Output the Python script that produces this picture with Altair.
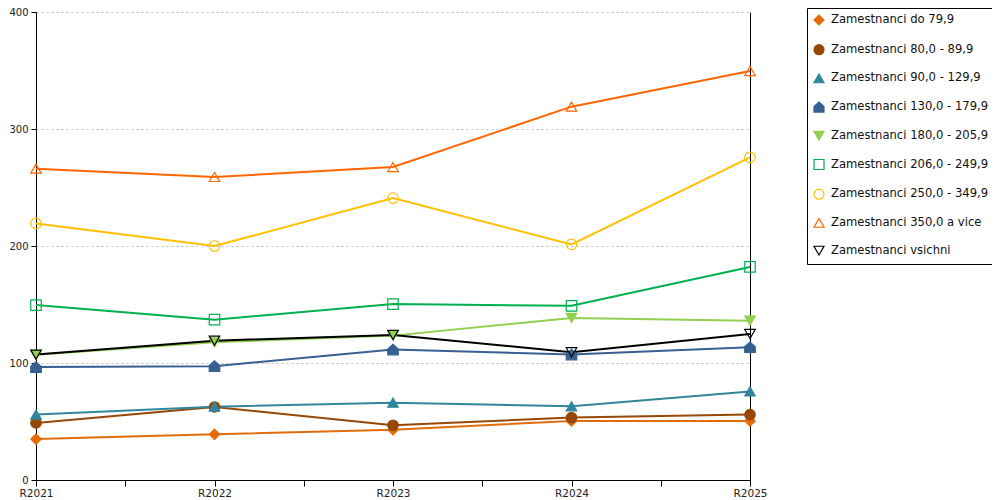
import json
import altair as alt
import pandas as pd

categories = ["R2021", "R2022", "R2023", "R2024", "R2025"]

series_names = [
    "Zamestnanci do 79,9",
    "Zamestnanci 80,0 - 89,9",
    "Zamestnanci 90,0 - 129,9",
    "Zamestnanci 130,0 - 179,9",
    "Zamestnanci 180,0 - 205,9",
    "Zamestnanci 206,0 - 249,9",
    "Zamestnanci 250,0 - 349,9",
    "Zamestnanci 350,0 a vice",
    "Zamestnanci vsichni",
]

v_do79 = [35.0, 39.0, 43.0, 50.5, 50.5]
v_80 = [48.8, 62.4, 46.8, 53.4, 55.9]
v_90 = [55.9, 62.7, 66.1, 63.0, 75.7]
v_130 = [96.5, 97.3, 111.5, 107.2, 113.5]
v_180 = [107.0, 117.7, 123.4, 138.5, 136.2]
v_206 = [149.5, 137.0, 150.4, 148.9, 182.1]
v_250 = [219.3, 200.0, 240.9, 201.4, 275.7]
v_350 = [266.1, 259.0, 267.5, 319.1, 349.5]
v_all = [107.2, 119.1, 124.0, 109.2, 124.8]

all_values = [v_do79, v_80, v_90, v_130, v_180, v_206, v_250, v_350, v_all]

stroke_colors = ["#E36C0A", "#974806", "#31859C", "#366092", "#92D050",
                 "#00B050", "#FFC000", "#FF6600", "#000000"]
fill_colors = ["#E36C0A", "#974806", "#31859C", "#366092", "#92D050",
               "transparent", "transparent", "transparent", "transparent"]
house = "M-1,1L-1,-0.1L0,-1L1,-0.1L1,1Z"
shapes = ["diamond", "circle", "triangle-up", house, "triangle-down",
          "square", "circle", "triangle-up", "triangle-down"]

rows = []
for s, vals in zip(series_names, all_values):
    for i, (c, v) in enumerate(zip(categories, vals)):
        rows.append({"series": s, "idx": i, "cat": c, "value": v})
df = pd.DataFrame(rows)

FONT = "DejaVu Sans"

x_enc = alt.X(
    "idx:Q",
    scale=alt.Scale(domain=[0, len(categories) - 1], nice=False, zero=False),
    axis=alt.Axis(
        title=None,
        values=[i * 0.5 for i in range(2 * len(categories) - 1)],
        labelExpr="datum.value % 1 == 0 ? " + json.dumps(categories) + "[datum.value] : ''",
        grid=False,
        domainColor="black",
        tickColor="black",
        tickSize=6,
        labelColor="#222222",
        labelFont=FONT,
        labelFontSize=10.5,
        labelPadding=2,
        labelFlush=False,
    ),
)

y_scale = alt.Scale(domain=[0, 400], nice=False)

stroke_scale = alt.Scale(domain=series_names, range=stroke_colors)
fill_scale = alt.Scale(domain=series_names, range=fill_colors)
shape_scale = alt.Scale(domain=series_names, range=shapes)

lines = alt.Chart(df).mark_line(strokeWidth=2).encode(
    x=x_enc,
    y=alt.Y(
        "value:Q",
        scale=y_scale,
        axis=alt.Axis(
            title=None,
            values=[0, 100, 200, 300, 400],
            grid=True,
            gridColor="#BBBBBB",
            gridDash=[2, 3],
            gridWidth=1,
            domainColor="black",
            tickColor="black",
            tickSize=5,
            labelColor="#222222",
            labelFont=FONT,
            labelFontSize=10,
            labelPadding=3,
        ),
    ),
    color=alt.Color("series:N", sort=series_names,
                    scale=alt.Scale(range=stroke_colors), legend=None),
    order="idx:Q",
)

leg = alt.Legend(title=None, orient="none", legendX=771, legendY=-4)

points = alt.Chart(df).mark_point(size=110, strokeWidth=1.2, opacity=1).encode(
    x=x_enc,
    y=alt.Y(
        "value:Q",
        scale=y_scale,
        axis=alt.Axis(
            title=None,
            orient="right",
            labels=False,
            ticks=False,
            grid=False,
            domainColor="black",
        ),
    ),
    stroke=alt.Stroke("series:N", scale=stroke_scale, legend=leg),
    fill=alt.Fill("series:N", scale=fill_scale, legend=leg),
    shape=alt.Shape("series:N", scale=shape_scale, legend=leg),
)

chart = (
    alt.layer(lines, points)
    .resolve_axis(y="independent")
    .properties(
        width=714,
        height=468,
        autosize=alt.AutoSizeParams(type="none"),
        padding={"left": 28, "top": 4, "right": 242, "bottom": 30},
        background="white",
    )
    .configure_view(stroke=None)
    .configure_legend(
        strokeColor="black",
        fillColor="white",
        padding=6,
        rowPadding=13.7,
        labelFont=FONT,
        labelFontSize=11.6,
        labelColor="#111111",
        labelLimit=300,
        symbolSize=100,
        symbolStrokeWidth=1.2,
        labelOffset=6,
    )
)

chart.save("out.html", embed_options={"renderer": "svg", "actions": False})
